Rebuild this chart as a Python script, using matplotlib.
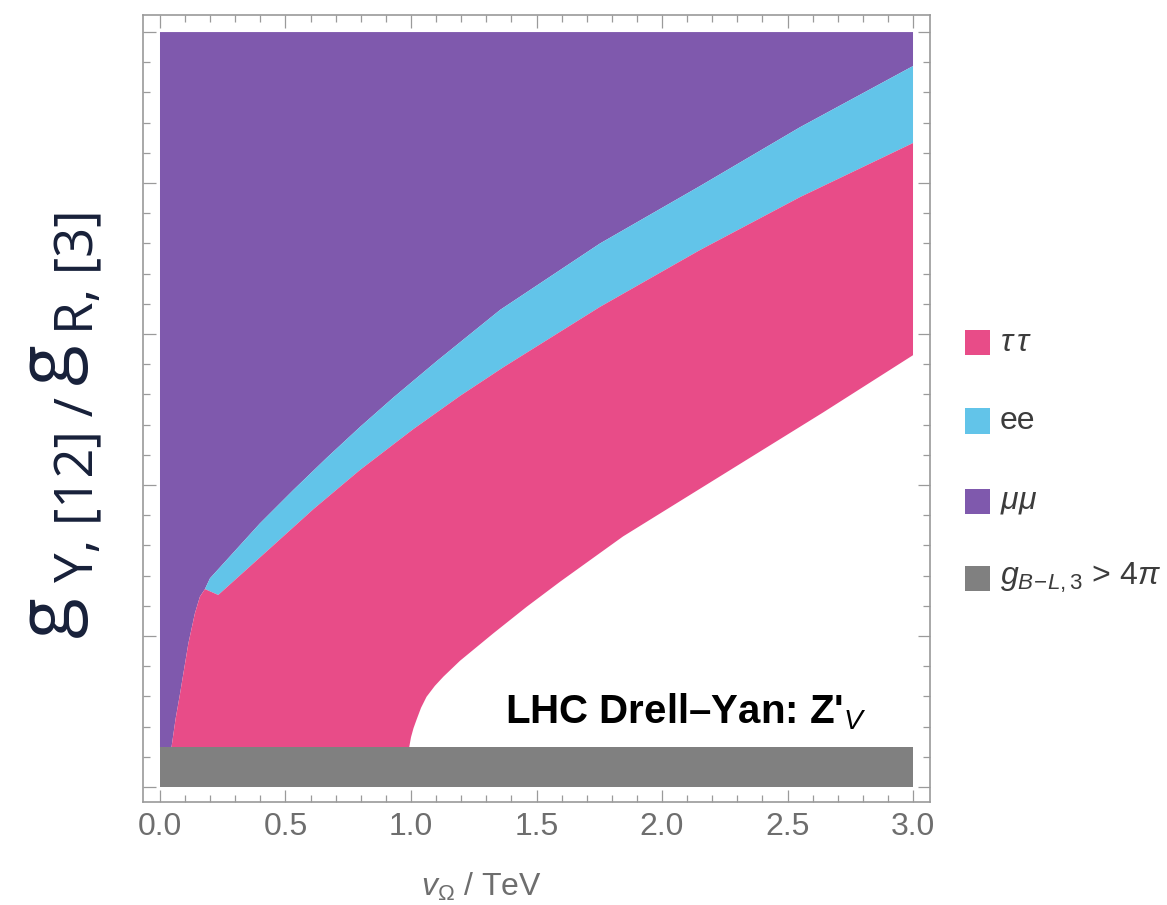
import numpy as np
import matplotlib
matplotlib.use("Agg")
import matplotlib.pyplot as plt
from matplotlib.patches import Rectangle

plt.rcParams['font.family'] = ['Liberation Sans', 'DejaVu Sans']
plt.rcParams['mathtext.fontset'] = 'custom'
plt.rcParams['mathtext.rm'] = 'Liberation Sans'
plt.rcParams['mathtext.it'] = 'Liberation Sans:italic'
plt.rcParams['mathtext.bf'] = 'Liberation Sans:bold'

# plot range of the scan
x_min, x_max = 0.0, 3.0
y_top = 5.0
gray_top = 0.265          # g_{B-L,3} > 4 pi band

# tau tau region, left edge (bottom -> top)
tau_left_x = [0.046, 0.062, 0.080, 0.113, 0.139, 0.159, 0.179]
tau_left_y = [0.265, 0.450, 0.620, 0.951, 1.150, 1.261, 1.311]

# tau tau upper edge (= lower edge of ee band)
tau_up_x = [0.232, 0.438, 0.611, 0.797, 1.009, 1.195, 1.368, 1.753, 2.151, 2.550, 3.0]
tau_up_y = [1.272, 1.580, 1.840, 2.100, 2.370, 2.590, 2.780, 3.180, 3.556, 3.907, 4.265]

# tau tau lower edge (white region above it is allowed)
tau_low_x = [0.993, 1.000, 1.010, 1.023, 1.040, 1.062, 1.095, 1.129, 1.195, 1.328, 1.461, 1.594, 1.845, 2.243, 2.641, 3.0]
tau_low_y = [0.265, 0.330, 0.390, 0.450, 0.525, 0.598, 0.670, 0.731, 0.836, 1.018, 1.194, 1.360, 1.660, 2.070, 2.480, 2.860]

# ee upper edge (= lower edge of mu mu region)
ee_up_x = [0.179, 0.199, 0.398, 0.531, 0.664, 0.797, 0.930, 1.102, 1.355, 1.753, 2.151, 2.550, 3.0]
ee_up_y = [1.311, 1.382, 1.746, 1.967, 2.180, 2.385, 2.580, 2.820, 3.160, 3.600, 3.980, 4.370, 4.775]

col_tau = '#e84c88'
col_ee = '#62c4e9'
col_mu = '#7f59ad'
col_gray = '#808080'

fig = plt.figure(figsize=(11.67, 9.05), dpi=100)
ax = fig.add_axes([143/1167, 1-802/905, 787/1167, 787/905])

# mu mu: everything above ee band and left of tau tau
mu_x = [x_min, x_min, x_max, x_max] + ee_up_x[::-1] + tau_left_x[::-1]
mu_y = [gray_top, y_top, y_top, ee_up_y[-1]] + ee_up_y[::-1] + tau_left_y[::-1]
ax.fill(mu_x, mu_y, color=col_mu, lw=0)

# ee band
ee_x = ee_up_x + tau_up_x[::-1]
ee_y = ee_up_y + tau_up_y[::-1]
ax.fill(ee_x, ee_y, color=col_ee, lw=0)

# tau tau
tau_x = tau_left_x + tau_up_x + tau_low_x[::-1]
tau_y = tau_left_y + tau_up_y + tau_low_y[::-1]
ax.fill(tau_x, tau_y, color=col_tau, lw=0)

# perturbativity band
ax.fill_between([x_min, x_max], 0, gray_top, color=col_gray, lw=0)

ax.set_xlim(-0.0677, 3.0677)
ax.set_ylim(-0.099, 5.113)
ax.set_xticks(np.arange(0, 3.01, 0.5))
ax.set_xticklabels(['%.1f' % v for v in np.arange(0, 3.01, 0.5)])
ax.set_xticks(np.arange(0, 3.01, 0.1), minor=True)
ax.set_yticks(np.arange(0, 5.01, 1.0))
ax.set_yticks(np.arange(0, 5.01, 0.2), minor=True)
ax.set_yticklabels([])
ax.tick_params(which='both', direction='in', top=True, right=True,
               color='#9a9a9a', width=0.9)
ax.tick_params(which='major', length=9, labelsize=23, labelcolor='#6e6e6e', pad=7)
ax.tick_params(which='minor', length=5)
for s in ax.spines.values():
    s.set_color('#9a9a9a')
    s.set_linewidth(1.2)

ax.set_xlabel(r'$v_{\Omega}$ / TeV', fontsize=23, color='#6e6e6e')
ax.xaxis.set_label_coords(0.43, -0.088)

ax.text(1.375, 0.42, "LHC Drell\u2013Yan: Z'$_{V}$", fontsize=29,
        fontweight='bold', color='black', ha='left', va='baseline')

# legend, drawn by hand
leg_labels = [r'$\tau\,\tau$', 'ee', r'$\mu\mu$', r'$g_{B\!-\!L,3}$ > 4$\pi$']
leg_colors = [col_tau, col_ee, col_mu, col_gray]
leg_y = [343, 421, 501, 578]
for lab, c, yy in zip(leg_labels, leg_colors, leg_y):
    fig.patches.append(Rectangle((965/1167, 1-(yy+12.5)/905), 25/1167, 25/905,
                                 transform=fig.transFigure, color=c, lw=0))
    fig.text(1000/1167, 1-yy/905, lab, fontsize=23, color='#3c3c3c',
             ha='left', va='center')

# y label, pieced together: (text, size, baseline x px, start y px)
ylab_parts = [('g', 54, 70, 637), ('Y, [12] /', 38, 93, 582),
              ('g', 54, 70, 384), ('R, [3]', 38, 93, 334)]
for txt, fs, bx, sy in ylab_parts:
    fig.text(bx/1167, 1-sy/905, txt, family='Open Sans', fontsize=fs,
             color='#172039', rotation=90, rotation_mode='anchor',
             ha='left', va='baseline')

fig.savefig('out.png', dpi=100)
